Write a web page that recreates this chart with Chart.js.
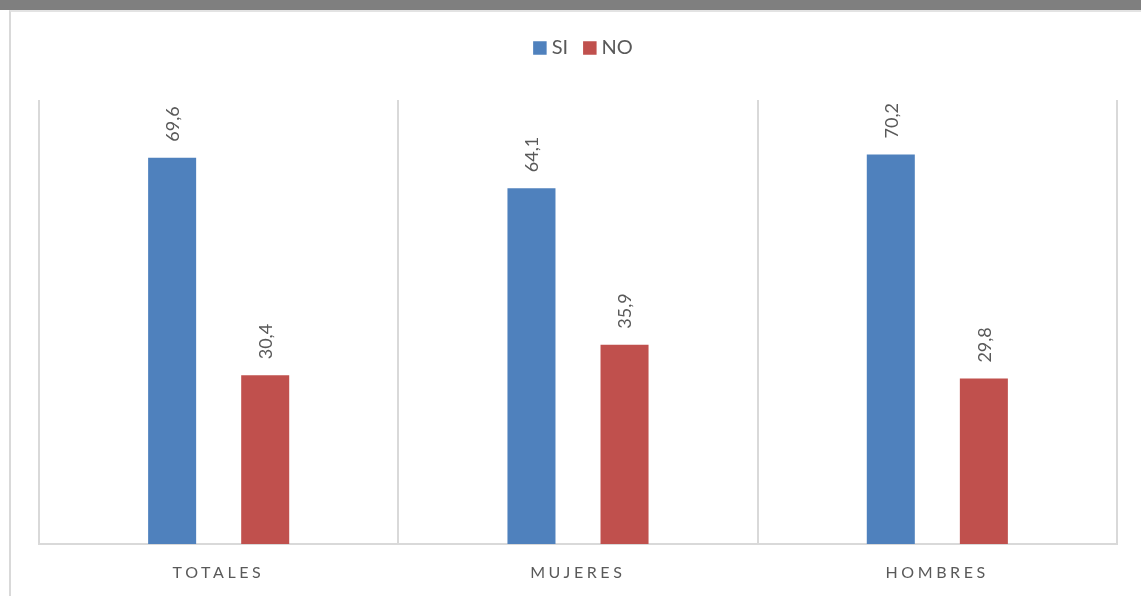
<!DOCTYPE html>
<html lang="es">
<head>
    <meta charset="UTF-8">
    <title>SI / NO</title>
    <script src="https://cdn.jsdelivr.net/npm/chart.js"></script>
    <style>
        body { margin: 0; background: #fff; overflow: hidden; }
        .band { position: absolute; left: 0; top: 0; width: 1141px; height: 10px; background: #7f7f7f; }
        .frame { position: absolute; left: 9px; top: 10px; width: 1132px; height: 586px;
                 border-left: 2px solid #d9d9d9; border-top: 2px solid #e3e3e3; box-sizing: border-box; }
        #chart { position: absolute; left: 11px; top: 12px; }
    </style>
</head>
<body>
    <div class="band"></div>
    <div class="frame"></div>
    <canvas id="chart" width="1130" height="584"></canvas>

    <script>
        const categories = ['TOTALES', 'MUJERES', 'HOMBRES'];
        const siValues = [69.6, 64.1, 70.2];
        const noValues = [30.4, 35.9, 29.8];
        const seriesNames = ['SI', 'NO'];
        const seriesColors = ['#4f81bd', '#c0504d'];
        const textColor = '#595959';
        const fontFamily = 'Lato, "Open Sans", sans-serif';

        const fmt = v => v.toFixed(1).replace('.', ',');

        // rotated value labels above each bar
        const valueLabels = {
            id: 'valueLabels',
            afterDatasetsDraw(chart) {
                const ctx = chart.ctx;
                ctx.save();
                ctx.font = '18px ' + fontFamily;
                ctx.fillStyle = textColor;
                ctx.textAlign = 'left';
                ctx.textBaseline = 'middle';
                chart.data.datasets.forEach((ds, di) => {
                    chart.getDatasetMeta(di).data.forEach((bar, i) => {
                        ctx.save();
                        ctx.translate(bar.x + 1, bar.y - 16);
                        ctx.rotate(-Math.PI / 2);
                        ctx.fillText(fmt(ds.data[i]), 0, 0);
                        ctx.restore();
                    });
                });
                ctx.restore();
            }
        };

        // category labels with letter spacing
        const categoryLabels = {
            id: 'categoryLabels',
            afterDraw(chart) {
                const ctx = chart.ctx;
                const x = chart.scales.x;
                const spacing = 3.6;
                ctx.save();
                ctx.font = '16px ' + fontFamily;
                ctx.fillStyle = textColor;
                ctx.textAlign = 'center';
                ctx.textBaseline = 'middle';
                ctx.letterSpacing = spacing + 'px';
                categories.forEach((c, i) => {
                    ctx.fillText(c, x.getPixelForValue(i) + spacing / 2 - 2, chart.chartArea.bottom + 29);
                });
                ctx.restore();
            }
        };

        // legend drawn at the top
        const topLegend = {
            id: 'topLegend',
            afterDraw(chart) {
                const ctx = chart.ctx;
                const box = 13.5, gapText = 5, gapItem = 15;
                ctx.save();
                ctx.font = '20px ' + fontFamily;
                ctx.textBaseline = 'middle';
                ctx.textAlign = 'left';
                const widths = seriesNames.map(n => ctx.measureText(n).width);
                let total = 0;
                widths.forEach((w, i) => { total += box + gapText + w + (i < widths.length - 1 ? gapItem : 0); });
                const area = chart.chartArea;
                let cx = (area.left + area.right) / 2 + 5 - total / 2;
                const cy = 36;
                seriesNames.forEach((n, i) => {
                    ctx.fillStyle = seriesColors[i];
                    ctx.fillRect(cx, cy - box / 2, box, box);
                    cx += box + gapText;
                    ctx.fillStyle = textColor;
                    ctx.fillText(n, cx, cy);
                    cx += widths[i] + gapItem;
                });
                ctx.restore();
            }
        };

        new Chart(document.getElementById('chart'), {
            type: 'bar',
            data: {
                labels: categories,
                datasets: [
                    { label: seriesNames[0], data: siValues, backgroundColor: seriesColors[0] },
                    { label: seriesNames[1], data: noValues, backgroundColor: seriesColors[1] }
                ]
            },
            options: {
                responsive: false,
                animation: false,
                categoryPercentage: 0.518,
                barPercentage: 0.516,
                layout: { padding: { left: 28, right: 24, top: 88, bottom: 52 } },
                plugins: {
                    legend: { display: false },
                    tooltip: { enabled: false }
                },
                scales: {
                    x: {
                        grid: { color: '#d9d9d9', lineWidth: 2, drawTicks: false },
                        border: { color: '#d9d9d9', width: 2 },
                        ticks: { display: false }
                    },
                    y: {
                        display: false,
                        min: 0,
                        max: 80
                    }
                }
            },
            plugins: [valueLabels, categoryLabels, topLegend]
        });
    </script>
</body>
</html>
